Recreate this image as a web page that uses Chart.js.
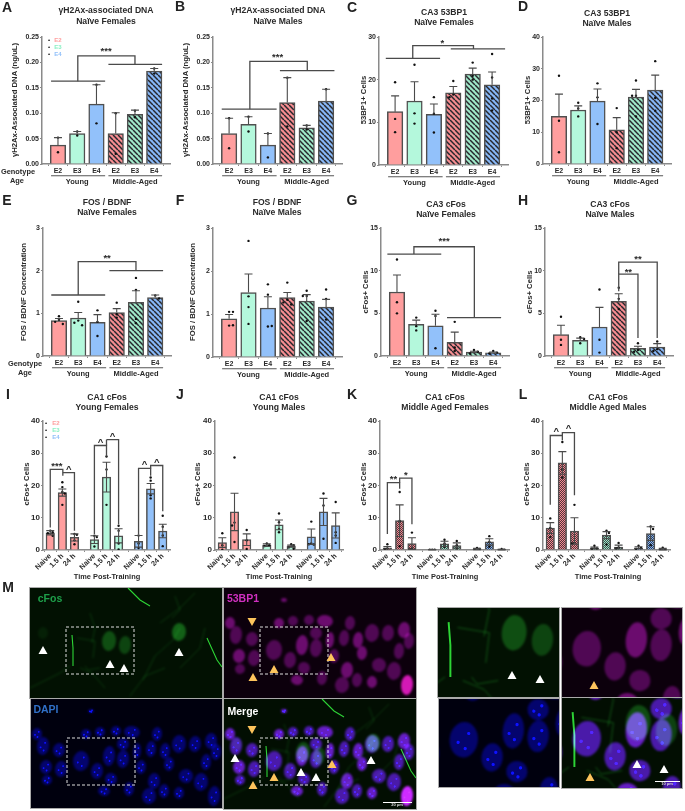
<!DOCTYPE html>
<html>
<head>
<meta charset="utf-8">
<title>Panels</title>
<script src="https://cdn.jsdelivr.net/npm/chart.js@4"></script>
<style>
  html, body { margin: 0; padding: 0; background: #fff; }
  #page { position: relative; width: 685px; height: 811px; overflow: hidden; font-family: "Liberation Sans", Arial, sans-serif; color: #2a2a2a; filter: blur(0.3px); }
  #page canvas { position: absolute; }
  .t { position: absolute; white-space: nowrap; font-weight: bold; transform: translate(-50%, -50%); line-height: 1; }
</style>
</head>
<body>
<div id="page"></div>
<script>
// ── Values ──
const genotypeLabels = ['E2', 'E3', 'E4', 'E2', 'E3', 'E4'];
const timeLabels = ['Naive', '1.5 h', '24 h', 'Naive', '1.5 h', '24 h', 'Naive', '1.5 h', '24 h'];
const sixPos = [0, 1, 2, 3, 4, 5];
const ninePos = [0, 1, 2, 3.65, 4.65, 5.65, 7.3, 8.3, 9.3];

const meansA = [.037, .06, .118, .06, .098, .183];
const topsA = [.052, .064, .156, .101, .106, .188];
const dotsA = [[.023, .052], [.056, .064], [.08, .156], [.02, .1], [.092, .105], [.178, .188]];
const meansB = [.06, .078, .037, .121, .071, .124];
const topsB = [.09, .093, .06, .17, .076, .147];
const dotsB = [[.031, .09], [.064, .093], [.013, .06], [.074, .17], [.068, .076], [.147]];
const meansC = [12.5, 15, 11.9, 16.9, 21.3, 18.8];
const topsC = [16.2, 19.5, 14.3, 18.4, 22.7, 21.8];
const dotsC = [[19.4, 10.8, 7.7], [23.5, 12.1, 9.7], [15.9, 12, 7.6], [19.7, 16.5, 15.9], [24, 20.9, 20], [26, 20.5, 15.6, 12.8]];
const meansD = [15, 17, 19.8, 10.8, 21.1, 23.3];
const topsD = [22, 18.3, 23.6, 14.6, 23.5, 28];
const dotsD = [[27.8, 13.6, 3.7], [19.3, 17.5, 15], [25.4, 21, 12.6], [17.6, 10, 5], [26.3, 21.5, 21.5, 15], [32.4, 20.8, 16.8]];
const meansE = [.83, .89, .79, 1.02, 1.26, 1.37];
const topsE = [.88, 1.02, .97, 1.11, 1.53, 1.43];
const dotsE = [[.93, .85, .8, .75], [1.27, .83, .78, .72], [1.07, .8, .47], [1.25, .98, .9], [1.83, 1.55, .87, .77], [1.42, 1.35]];
const meansF = [.89, 1.5, 1.14, 1.38, 1.3, 1.16];
const topsF = [.99, 1.93, 1.4, 1.5, 1.45, 1.34];
const dotsF = [[1.05, 1.05, .73, .74], [2.7, 1.41, 1.16, .77], [1.69, 1.45, .71, .72], [1.73, 1.33, 1.27, 1.22], [1.54, 1.42, 1.42, .84], [1.57, 1.35, .87]];
const meansG = [7.5, 3.7, 3.55, 1.6, .45, .37];
const topsG = [9.5, 4.2, 4.9, 2.8, .55, .45];
const dotsG = [[11.3, 6.3, 5], [4.5, 3.5, 3], [5.3, 4.7, .9], [4, 1, .6], [.7, .5, .3], [.6, .4, .3]];
const meansH = [2.5, 1.85, 3.4, 6.4, .9, 1.05];
const topsH = [3.6, 2.1, 5.7, 7.3, 1.15, 1.45];
const dotsH = [[4.6, 1.9, 1.3], [2.2, 2, 1.5], [7.8, 1.9, .4], [8, 6.7, 5.5], [1.5, .7, .5], [1.7, .8, .6]];
const meansI = [5.3, 17.8, 3.9, 3.2, 22.6, 4.4, 2.7, 19, 5.9];
const topsI = [6, 18.9, 5, 4.4, 27.2, 6.6, 4.5, 20.6, 8];
const botsI = [4.7, 16.7, 2.8, 2, 18, 2.2, .9, 17.4, 3.8];
const dotsI = [[6, 5.5, 5.2, 4.4], [21, 19.5, 18, 17.5, 14], [5, 4.7, 3, 1.8], [4.4, 4, 1.1], [29, 25, 14], [7.5, 6, 2, .2], [4.5, 2, .6], [22.5, 21.5, 17, 16], [10.6, 7.2, 4.5, 1.2]];
const meansJ = [2.3, 11.8, 3.2, 1.5, 7.8, 1.2, 4.1, 11.8, 7.6];
const topsJ = [3.8, 17.6, 5, 1.9, 9.3, 1.5, 6.5, 16, 11.5];
const botsJ = [.8, 6, 1.4, 1.1, 6.3, .9, 1.7, 7.6, 3.7];
const dotsJ = [[5.2, 1.5, .1], [28.7, 8.5, 7.6, 2.5], [6.2, 3, .3], [2, 1.5, 1.2], [11.3, 8.6, 6.5, 5.5], [1.8, 1.5, .8, .4], [8.8, 2, 1.8, 1.7], [17.5, 13.8, 3.5], [14.9, 5.5, 4.5, 2.2]];
const meansK = [.7, 9.1, 2, .1, 1.9, 1.4, .3, 2.5, .1];
const topsK = [1.1, 14, 3.8, .15, 2.7, 2.2, .5, 3.5, .2];
const botsK = [.3, 4.2, .2, .05, 1.1, .6, .1, 1.5, 0];
const dotsK = [[1.8, .5, .3], [18, 9, 1.2], [5.4, .5, .2], [.1, .1, .1], [3.2, 2, 1], [2.8, 1.5, .5], [.6, .3, .1], [4.3, 2.5, 1], [.3, .1, .05]];
const meansL = [6.8, 27, 5.9, .6, 4.6, .9, .7, 5.1, .2];
const topsL = [8.5, 30.5, 10, .9, 5.7, 1.5, 1, 7.2, .5];
const botsL = [5.1, 23.5, 1.8, .3, 3.5, .3, .4, 3, .05];
const dotsL = [[9.8, 6.8, 4], [33.5, 25, 22.5], [14, 2.2, 2], [1.3, .5, .3], [6, 5.3, 1.7], [2.2, .8, .5], [1.3, .6, .3], [7.3, 6.5, 1.5], [.7, .2, .1]];

// bracket paths [x, y, x, y, ...] and their labels [x, y, text], all in axis units
const bracketsA = [[-.36, .163, 2.45, .163], [1.03, .163, 1.03, .213, 4, .213, 4, .196], [2.62, .196, 5.41, .196]];
const starsA = [[2.5, .224, '***']];
const bracketsB = [[-.38, .108, 2.45, .108], [1.07, .108, 1.07, .202, 4.03, .202, 4.03, .184], [2.62, .184, 5.43, .184]];
const starsB = [[2.5, .213, '***']];
const bracketsC = [[-.48, 25, 2.32, 25], [.91, 25, .91, 28, 4.04, 28, 4.04, 27.2], [2.87, 27.2, 5.67, 27.2]];
const starsC = [[2.44, 28.9, '*']];
const bracketsE = [[-.4, 1.43, 2.4, 1.43], [1, 1.43, 1, 2.21, 4, 2.21, 4, 2], [2.62, 2, 5.41, 2]];
const starsE = [[2.5, 2.33, '**']];
const bracketsG = [[-.5, 11.95, 2.3, 11.95], [.88, 11.95, .88, 12.8, 4.02, 12.8, 4.02, 4.5], [2.6, 4.5, 5.41, 4.5]];
const starsG = [[2.45, 13.6, '***']];
const bracketsH = [[3, 7.6, 3, 9.6, 4, 9.6, 4, 2.1], [3, 9.6, 3, 11, 5, 11, 5, 2.1]];
const starsH = [[3.5, 10, '**'], [4, 11.5, '**']];
const bracketsI = [[0, 7, 0, 25, 1.04, 25, 1.04, 23], [1.04, 24, 2, 24, 2, 6], [3.65, 5, 3.65, 32.4, 4.65, 32.4, 4.65, 29], [4.65, 34.2, 5.65, 34.2, 5.65, 8], [4.65, 32.4, 4.65, 34.2], [7.3, 5, 7.3, 25.3, 8.3, 25.3, 8.3, 23], [8.3, 25.3, 8.3, 26.2, 9.3, 26.2, 9.3, 12]];
const starsI = [[.55, 26.3, '***'], [1.53, 25.3, '^'], [4.15, 33.8, '^'], [5.15, 35.6, '^'], [7.8, 26.8, '^'], [8.8, 27.6, '^']];
const bracketsK = [[0, 5, 0, 20.9, 1, 20.9, 1, 19], [1, 20.9, 1, 22.3, 2, 22.3, 2, 8]];
const starsK = [[.5, 22.4, '**'], [1.5, 23.7, '*']];
const bracketsL = [[0, 14, 0, 35.5, 1, 35.5, 1, 34], [1, 35.5, 1, 36.4, 2, 36.4, 2, 17]];
const starsL = [[.5, 37, '^'], [1.5, 38, '^']];

// ── Fills ──
const pink = '#ff9e9e', mint = '#b4f8dc', blue = '#92c1fa';

function tile(size, base, draw) {
  const c = document.createElement('canvas');
  c.width = c.height = size;
  const x = c.getContext('2d');
  x.fillStyle = base;
  x.fillRect(0, 0, size, size);
  draw(x);
  return x.createPattern(c, 'repeat');
}
function stripes(base) {
  return tile(5, base, x => {
    x.strokeStyle = '#26262c';
    x.lineWidth = 1.5;
    [-5, 0, 5].forEach(o => {
      x.beginPath();
      x.moveTo(o, 0);
      x.lineTo(o + 5, 5);
      x.stroke();
    });
  });
}
function checks(base) {
  return tile(2, base, x => {
    x.fillStyle = 'rgba(20,20,30,.72)';
    x.fillRect(0, 0, 1, 1);
    x.fillRect(1, 1, 1, 1);
  });
}
const fillsOld = [pink, mint, blue, stripes('#f58c90'), stripes('#9fe8c8'), stripes('#86b6f5')];
const fillsYoung = [pink, pink, pink, mint, mint, mint, blue, blue, blue];
const e2c = checks('#f58c90'), e3c = checks('#9fe8c8'), e4c = checks('#86b6f5');
const fillsAged = [e2c, e2c, e2c, e3c, e3c, e3c, e4c, e4c, e4c];

// ── Panels ──
const page = document.getElementById('page');

function txt(x, y, str, size, opts = {}) {
  const el = document.createElement('div');
  el.className = 't';
  el.textContent = str;
  el.style.left = x + 'px';
  el.style.top = y + 'px';
  el.style.fontSize = size + 'px';
  if (opts.color) el.style.color = opts.color;
  if (opts.rotate) el.style.transform = 'translate(-50%,-50%) rotate(-90deg)';
  page.appendChild(el);
}

function makePanel(p) {
  const leftM = 24, topM = 7, rightM = 4, bottomM = p.time ? 34 : 26;
  const canvas = document.createElement('canvas');
  canvas.width = p.x1 - p.x0 + leftM + rightM;
  canvas.height = p.y1 - p.y0 + topM + bottomM;
  canvas.style.left = (p.x0 - leftM) + 'px';
  canvas.style.top = (p.y0 - topM) + 'px';
  page.appendChild(canvas);

  const pos = p.time ? ninePos : sixPos;
  const labels = p.time ? timeLabels : genotypeLabels;
  const dotPoints = [];
  p.dots.forEach((list, i) => list.forEach((v, j) => {
    const close = j > 0 && Math.abs(list[j - 1] - v) < p.max * .025;
    dotPoints.push({ x: pos[i] + (close ? (j % 2 ? .2 : -.2) : 0), y: v });
  }));

  const overlay = {
    id: 'overlay',
    afterDatasetsDraw(chart) {
      const { ctx, scales: { x, y } } = chart;
      ctx.save();
      // error bars
      ctx.strokeStyle = '#4a4a4a';
      ctx.lineWidth = 1.1;
      pos.forEach((v, i) => {
        const px = x.getPixelForValue(v);
        const lo = y.getPixelForValue(p.bots ? p.bots[i] : p.means[i]);
        const hi = y.getPixelForValue(p.tops[i]);
        ctx.beginPath();
        ctx.moveTo(px, lo); ctx.lineTo(px, hi);
        ctx.moveTo(px - 4, hi); ctx.lineTo(px + 4, hi);
        if (p.bots) { ctx.moveTo(px - 4, lo); ctx.lineTo(px + 4, lo); }
        ctx.stroke();
      });
      // significance brackets
      ctx.strokeStyle = '#4a4a4a';
      ctx.lineWidth = 1.3;
      (p.brackets || []).forEach(b => {
        ctx.beginPath();
        for (let k = 0; k < b.length; k += 2) {
          const px = x.getPixelForValue(b[k]), py = y.getPixelForValue(b[k + 1]);
          if (k === 0) ctx.moveTo(px, py); else ctx.lineTo(px, py);
        }
        ctx.stroke();
      });
      ctx.fillStyle = '#2a2a2a';
      ctx.textAlign = 'center';
      ctx.textBaseline = 'middle';
      ctx.font = 'bold 9.5px "Liberation Sans"';
      (p.stars || []).forEach(s => {
        ctx.fillText(s[2], x.getPixelForValue(s[0]), y.getPixelForValue(s[1]) + (s[2] === '^' ? 1 : 1.5));
      });
      // Young / Middle-Aged group rules
      if (!p.time) {
        const base = y.getPixelForValue(0);
        [[-.36, 2.45, 'Young', 1], [2.62, 5.41, 'Middle-Aged', 4]].forEach(g => {
          ctx.strokeStyle = '#555';
          ctx.lineWidth = 1.1;
          ctx.beginPath();
          ctx.moveTo(x.getPixelForValue(g[0]), base + 11.7);
          ctx.lineTo(x.getPixelForValue(g[1]), base + 11.7);
          ctx.stroke();
          ctx.font = 'bold 7.5px "Liberation Sans"';
          ctx.fillText(g[2], x.getPixelForValue(g[3]), base + 17.5);
        });
      }
      ctx.restore();
    }
  };

  new Chart(canvas, {
    type: 'bar',
    data: {
      datasets: [
        {
          type: 'scatter', data: dotPoints, order: 0,
          pointRadius: 1.2, pointBackgroundColor: '#111', pointBorderWidth: 0,
        },
        {
          type: 'bar', order: 1,
          data: p.means.map((v, i) => ({ x: pos[i], y: v })),
          backgroundColor: p.fills,
          borderColor: '#4f4f4f', borderWidth: 1.5,
          barThickness: p.time ? 8.5 : 15.5,
        },
      ]
    },
    options: {
      responsive: false, animation: false,
      layout: { autoPadding: false, padding: { top: topM, right: rightM, left: 0, bottom: 0 } },
      plugins: { legend: { display: false }, tooltip: { enabled: false } },
      scales: {
        x: {
          type: 'linear', offset: false,
          min: p.time ? -.6 : -.83, max: p.time ? 9.9 : 5.82,
          afterBuildTicks: s => { s.ticks = pos.map(v => ({ value: v })); },
          afterFit: s => { s.height = bottomM; },
          border: { color: '#8a8a8a', width: 1.5 },
          grid: { drawOnChartArea: false, drawTicks: true, tickLength: 2, color: '#8a8a8a' },
          ticks: {
            callback: (v, i) => labels[i],
            autoSkip: false, padding: p.time ? 0 : 1, color: '#2a2a2a',
            font: { size: p.time ? 7.2 : 7, weight: 'bold', family: 'Liberation Sans' },
            maxRotation: p.time ? 45 : 0, minRotation: p.time ? 45 : 0,
          },
        },
        y: {
          min: 0, max: p.max,
          afterBuildTicks: s => {
            const out = [];
            for (let k = 0; k <= Math.round(p.max / p.step); k++) out.push({ value: k * p.step });
            s.ticks = out;
          },
          afterFit: s => { s.width = leftM; },
          border: { color: '#8a8a8a', width: 1.5 },
          grid: { drawOnChartArea: false, drawTicks: true, tickLength: 2, color: '#8a8a8a' },
          ticks: {
            callback: v => p.digits ? v.toFixed(p.digits) : v,
            padding: 1, color: '#2a2a2a',
            font: { size: p.time ? 8 : 7, weight: 'bold', family: 'Liberation Sans' },
          },
        },
      },
    },
    plugins: [overlay],
  });
}

const panels = [
  { x0: 42, x1: 170, y0: 37, y1: 164, max: .25, step: .05, digits: 2, means: meansA, tops: topsA, dots: dotsA, brackets: bracketsA, stars: starsA, fills: fillsOld },
  { x0: 213, x1: 342, y0: 37, y1: 164, max: .25, step: .05, digits: 2, means: meansB, tops: topsB, dots: dotsB, brackets: bracketsB, stars: starsB, fills: fillsOld },
  { x0: 379, x1: 508, y0: 37, y1: 165, max: 30, step: 10, means: meansC, tops: topsC, dots: dotsC, brackets: bracketsC, stars: starsC, fills: fillsOld },
  { x0: 543, x1: 671, y0: 37, y1: 164, max: 40, step: 10, means: meansD, tops: topsD, dots: dotsD, fills: fillsOld },
  { x0: 43, x1: 171, y0: 228, y1: 356, max: 3, step: 1, means: meansE, tops: topsE, dots: dotsE, brackets: bracketsE, stars: starsE, fills: fillsOld },
  { x0: 213, x1: 342, y0: 228, y1: 357, max: 3, step: 1, means: meansF, tops: topsF, dots: dotsF, fills: fillsOld },
  { x0: 381, x1: 509, y0: 228, y1: 356, max: 15, step: 5, means: meansG, tops: topsG, dots: dotsG, brackets: bracketsG, stars: starsG, fills: fillsOld },
  { x0: 545, x1: 673, y0: 228, y1: 356, max: 15, step: 5, means: meansH, tops: topsH, dots: dotsH, brackets: bracketsH, stars: starsH, fills: fillsOld },
  { x0: 43, x1: 170, y0: 421, y1: 550, max: 40, step: 10, time: true, means: meansI, tops: topsI, bots: botsI, dots: dotsI, brackets: bracketsI, stars: starsI, fills: fillsYoung },
  { x0: 215, x1: 343, y0: 421, y1: 550, max: 40, step: 10, time: true, means: meansJ, tops: topsJ, bots: botsJ, dots: dotsJ, fills: fillsYoung },
  { x0: 380, x1: 509, y0: 421, y1: 550, max: 40, step: 10, time: true, means: meansK, tops: topsK, bots: botsK, dots: dotsK, brackets: bracketsK, stars: starsK, fills: fillsAged },
  { x0: 543, x1: 670, y0: 421, y1: 550, max: 40, step: 10, time: true, means: meansL, tops: topsL, bots: botsL, dots: dotsL, brackets: bracketsL, stars: starsL, fills: fillsAged },
];
panels.forEach(makePanel);

// ── Text around the charts ──
const titles = [
  [106, 10, 21, '\u03b3H2Ax-associated DNA', 'Na\u00efve Females'],
  [278, 10, 21, '\u03b3H2Ax-associated DNA', 'Na\u00efve Males'],
  [444, 12, 22, 'CA3 53BP1', 'Na\u00efve Females'],
  [607, 13, 23, 'CA3 53BP1', 'Na\u00efve Males'],
  [107, 202, 212, 'FOS / BDNF', 'Na\u00efve Females'],
  [277, 202, 212, 'FOS / BDNF', 'Na\u00efve Males'],
  [446, 204, 214, 'CA3 cFos', 'Na\u00efve Females'],
  [610, 204, 214, 'CA3 cFos', 'Na\u00efve Males'],
  [107, 397, 407, 'CA1 cFos', 'Young Females'],
  [279, 397, 407, 'CA1 cFos', 'Young Males'],
  [445, 397, 407, 'CA1 cFos', 'Middle Aged Females'],
  [608, 397, 407, 'CA1 cFos', 'Middle Aged Males'],
];
titles.forEach(t => { txt(t[0], t[1], t[3], 8.6); txt(t[0], t[2], t[4], 8.6); });

const letters = [['A', 7, 7], ['B', 180, 6], ['C', 352, 7], ['D', 523, 6], ['E', 7, 200], ['F', 180, 200], ['G', 352, 200], ['H', 523, 200], ['I', 8, 394], ['J', 180, 394], ['K', 352, 394], ['L', 523, 394], ['M', 8, 587]];
letters.forEach(l => txt(l[1], l[2], l[0], 14, { color: '#222' }));

const yTitles = [
  [15, 100, '\u03b3H2Ax-Associated DNA (ng/uL)'], [186, 100, '\u03b3H2Ax-Associated DNA (ng/uL)'],
  [364, 100, '53BP1+ Cells'], [528, 100, '53BP1+ Cells'],
  [24, 292, 'FOS / BDNF Concentration'], [193, 292, 'FOS / BDNF Concentration'],
  [366, 292, 'cFos+ Cells'], [530, 292, 'cFos+ Cells'],
  [27, 484, 'cFos+ Cells'], [198, 484, 'cFos+ Cells'], [364, 484, 'cFos+ Cells'], [527, 484, 'cFos+ Cells'],
];
yTitles.forEach(t => txt(t[0], t[1], t[2], 7.7, { rotate: true }));

[[107, 'I'], [279, 'J'], [445, 'K'], [608, 'L']].forEach(t => txt(t[0], 576.5, 'Time Post-Training', 7.4));
txt(18, 172, 'Genotype', 7.4); txt(17, 181, 'Age', 7.4);
txt(25, 364, 'Genotype', 7.4); txt(25, 373, 'Age', 7.4);

// legends in A and I
[['E2', pink], ['E3', '#8cf0c4'], ['E4', blue]].forEach((g, i) => {
  txt(58, 39.5 + i * 7.3, g[0], 6, { color: g[1] });
  txt(49, 39.5 + i * 7.3, '\u2022', 6, { color: '#111' });
  txt(56, 422.5 + i * 7.3, g[0], 6, { color: g[1] });
  txt(46, 422.5 + i * 7.3, '\u2022', 6, { color: '#111' });
});

// ── Micrographs (M) — not chart data, painted as a plain canvas ──
const nuclei = [
  [6, 35, 5, 6], [12, 47, 6, 9], [28, 51, 6, 7], [15, 68, 6, 7], [30, 70, 6, 8], [16, 81, 5, 5], [55, 35, 5, 5], [69, 33, 5, 5],
  [85, 32, 5, 5], [101, 33, 8, 6], [50, 62, 8, 10], [66, 72, 6, 8], [78, 57, 6, 10], [92, 60, 6, 9], [92, 45, 6, 6], [106, 52, 4, 8],
  [120, 50, 5, 8], [126, 35, 5, 7], [134, 52, 5, 8], [148, 45, 7, 9], [164, 45, 6, 8], [180, 42, 6, 8], [185, 53, 5, 8], [175, 63, 5, 8],
  [138, 65, 5, 7], [155, 77, 7, 7], [170, 83, 7, 9], [123, 82, 6, 8], [118, 97, 7, 8], [133, 92, 5, 7], [148, 94, 5, 6], [183, 97, 6, 10],
  [98, 90, 5, 7], [73, 92, 6, 5], [80, 80, 6, 6], [110, 68, 5, 7], [60, 12, 3, 2],
];
const fosNuclei = [[79, 53, 7, 10, .32], [95, 57, 6, 9, .27], [149, 44, 7, 9, .42], [13, 45, 5, 6, .08]];
const fibersBright = [[[98, 0], [110, 12], [120, 18]], [[42, 47], [43, 60], [43, 78]], [[177, 50], [187, 72], [192, 79]]];
const fibersThin = [
  [[113, 92], [125, 68], [143, 52], [150, 40]], [[47, 50], [65, 53], [63, 70]], [[60, 25], [65, 40], [62, 55]], [[55, 78], [58, 82], [70, 80]],
  [[130, 35], [150, 20], [165, 5]], [[0, 100], [30, 85], [40, 78]], [[150, 80], [170, 60], [175, 40]], [[100, 108], [115, 88], [135, 80]],
  [[145, 8], [150, 22], [142, 30]], [[50, 80], [62, 85], [75, 100]],
];

function paintChannels(ctx, ch, sx, tx, ty) {
  ctx.save();
  ctx.translate(tx, ty);
  ctx.scale(sx, sx);
  ctx.globalCompositeOperation = 'lighter';
  const ell = (n, style) => {
    ctx.fillStyle = style;
    ctx.beginPath();
    ctx.ellipse(n[0], n[1], n[2], n[3], .1, 0, Math.PI * 2);
    ctx.fill();
  };
  if (ch.includes('g')) {
    ctx.filter = 'blur(1px)';
    fosNuclei.forEach(n => ell(n, `rgba(40,190,50,${n[4]})`));
    ctx.strokeStyle = 'rgba(30,140,40,.5)';
    ctx.lineWidth = .55;
    fibersThin.forEach(f => { ctx.beginPath(); f.forEach((q, i) => i ? ctx.lineTo(q[0], q[1]) : ctx.moveTo(q[0], q[1])); ctx.stroke(); });
    ctx.filter = 'blur(.5px)';
    ctx.strokeStyle = 'rgba(50,230,60,.85)';
    ctx.lineWidth = 1.1;
    fibersBright.forEach(f => { ctx.beginPath(); f.forEach((q, i) => i ? ctx.lineTo(q[0], q[1]) : ctx.moveTo(q[0], q[1])); ctx.stroke(); });
  }
  if (ch.includes('m')) {
    ctx.filter = 'blur(1px)';
    nuclei.forEach((n, i) => ell(n, i === 31 ? 'rgb(200,25,170)' : i % 3 === 0 ? 'rgb(95,12,98)' : 'rgb(68,8,72)'));
  }
  if (ch.includes('b')) {
    ctx.filter = 'blur(1px)';
    nuclei.forEach(n => ell(n, 'rgb(4,4,95)'));
    ctx.filter = 'blur(.6px)';
    nuclei.forEach(n => {
      [[.35, -.35], [-.4, .15], [.1, .5]].forEach(o => {
        ell([n[0] + o[0] * n[2], n[1] + o[1] * n[3], .9, .9], 'rgb(10,15,170)');
      });
    });
  }
  ctx.filter = 'none';
  ctx.restore();
}

const mc = document.createElement('canvas');
mc.width = 685; mc.height = 241;
mc.style.left = '0'; mc.style.top = '570px';
page.appendChild(mc);
const m = mc.getContext('2d');

const frames = [
  { r: [30, 18, 192, 110], ch: 'g', bg: '#021102' },
  { r: [224, 18, 192, 110], ch: 'm', bg: '#0c000c' },
  { r: [31, 129, 191, 109], ch: 'b', bg: '#00000e' },
  { r: [224, 129, 192, 110], ch: 'gmb', bg: '#020e02' },
  { r: [438, 38, 121, 89], ch: 'g', bg: '#021102', zoom: 1 },
  { r: [562, 38, 120, 89], ch: 'm', bg: '#0c000c', zoom: 1 },
  { r: [439, 129, 120, 88], ch: 'b', bg: '#00000e', zoom: 1 },
  { r: [562, 128, 120, 90], ch: 'gmb', bg: '#020e02', zoom: 1 },
];
frames.forEach(f => {
  const [x, y, w, h] = f.r;
  m.save();
  m.beginPath(); m.rect(x, y, w, h); m.clip();
  m.fillStyle = f.bg;
  m.fillRect(x, y, w, h);
  if (f.zoom) paintChannels(m, f.ch, 1.77, x - 36 * 1.77, y - 39 * 1.77);
  else paintChannels(m, f.ch, 1, x, y);
  m.restore();
  m.strokeStyle = '#aaa';
  m.lineWidth = 1;
  m.strokeRect(x - .5, y - .5, w + 1, h + 1);
  if (!f.zoom) {
    m.save();
    m.strokeStyle = '#ddd';
    m.setLineDash([3, 2]);
    m.strokeRect(x + 36, y + 39, 68, 47);
    m.restore();
  }
});

function arrow(x, y, color, down) {
  m.fillStyle = color;
  m.beginPath();
  m.moveTo(x, y + (down ? 4 : -4));
  m.lineTo(x - 4.5, y + (down ? -4 : 4));
  m.lineTo(x + 4.5, y + (down ? -4 : 4));
  m.closePath();
  m.fill();
}
const white = '#fff', amber = '#fdc45c';
[[43, 80], [110, 94], [124, 98], [179, 82], [235, 188], [301, 202], [316, 207], [371, 190], [512, 105], [540, 109], [637, 194], [664, 199]].forEach(a => arrow(a[0], a[1], white));
[[252, 52, true], [253, 107], [274, 99], [331, 87], [252, 160, true], [253, 215], [274, 207], [332, 194], [594, 115], [590, 207]].forEach(a => arrow(a[0], a[1], amber, a[2]));

m.strokeStyle = '#fff';
m.lineWidth = 1;
m.beginPath(); m.moveTo(383, 232.5); m.lineTo(412, 232.5); m.moveTo(655, 211.5); m.lineTo(680, 211.5); m.stroke();

txt(50, 598, 'cFos', 10.5, { color: '#1ea04a' });
txt(243, 598, '53BP1', 10.5, { color: '#d030c0' });
txt(46, 709, 'DAPI', 10.5, { color: '#3070c8' });
txt(243, 711, 'Merge', 10.5, { color: '#fff' });
txt(397, 805, '20 \u00b5m', 4, { color: '#ddd' });
txt(667, 784, '10 \u00b5m', 4, { color: '#ddd' });
</script>
</body>
</html>
